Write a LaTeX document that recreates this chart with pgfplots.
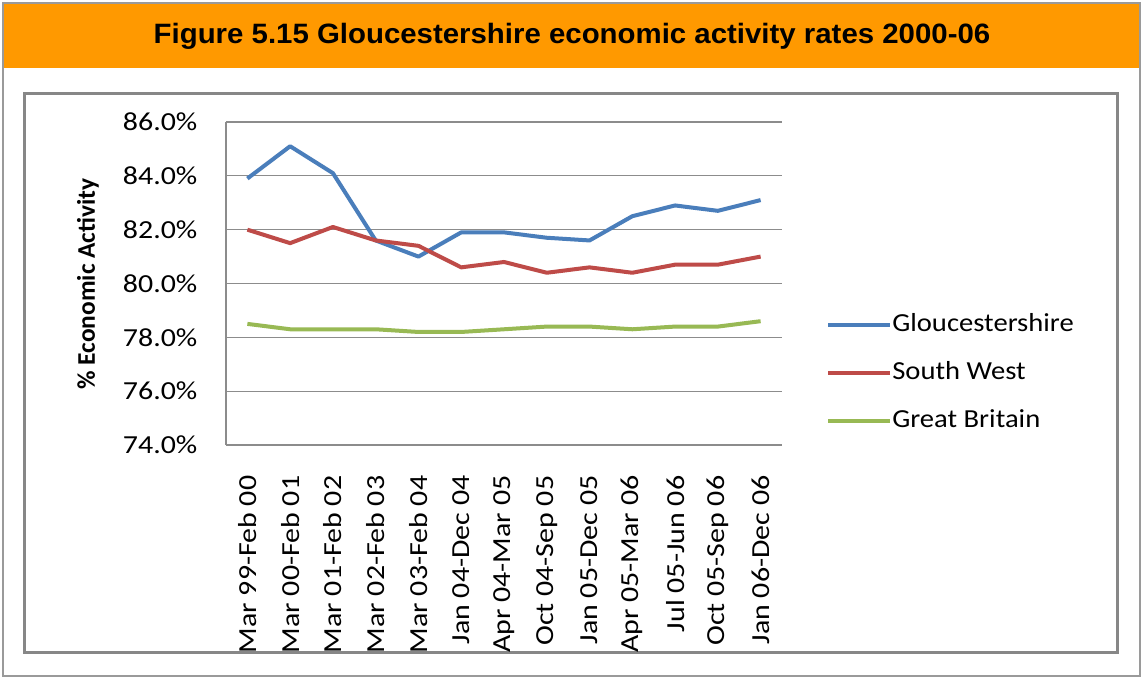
\documentclass[border=0pt]{standalone}
\usepackage{fontspec}
\usepackage{pgfplots}
\pgfplotsset{compat=1.18}
\setmainfont{Carlito}
\newfontfamily\tickfont{Carlito}[FakeStretch=1.15]
\newfontfamily\legfont{Carlito}[FakeStretch=1.1]
\newfontfamily\titlefont{Liberation Sans}[FakeStretch=1.05]
\definecolor{glos}{HTML}{4A7EBB}
\definecolor{swest}{HTML}{BE4B48}
\definecolor{gbrit}{HTML}{98B954}
\definecolor{hdr}{HTML}{FF9900}
\definecolor{frame}{HTML}{9A9A9A}
\definecolor{boxc}{HTML}{878787}
\definecolor{gridc}{HTML}{8C8C8C}

\begin{document}
\begin{tikzpicture}
\useasboundingbox (0,0) rectangle (571pt,-338.5pt);
\fill[white] (0,0) rectangle (571pt,-338.5pt);
\fill[hdr] (1.5pt,-1.5pt) rectangle (570pt,-34pt);
\draw[frame,line width=1pt] (1.5pt,-1.5pt) rectangle (570pt,-338pt);
\draw[boxc,line width=1.5pt] (12pt,-46.5pt) rectangle (558.5pt,-326pt);
\node[font=\titlefont\fontsize{14}{16}\selectfont\bfseries] at (286pt,-18pt) {Figure 5.15 Gloucestershire economic activity rates 2000-06};
\node[rotate=90,font=\fontsize{12.7}{14}\selectfont\bfseries] at (44pt,-142pt) {\% Economic Activity};

\begin{axis}[at={(113pt,-222.5pt)},anchor=south west,
scale only axis,width=278pt,height=161.5pt,
xmin=-0.5,xmax=12.5,ymin=74,ymax=86,
xtick={0,...,12},ytick={74,76,...,86},
xticklabels={Mar 99-Feb 00,Mar 00-Feb 01,Mar 01-Feb 02,Mar 02-Feb 03,Mar 03-Feb 04,Jan 04-Dec 04,Apr 04-Mar 05,Oct 04-Sep 05,Jan 05-Dec 05,Apr 05-Mar 06,Jul 05-Jun 06,Oct 05-Sep 06,Jan 06-Dec 06},
yticklabel={\pgfmathprintnumber[fixed,fixed zerofill,precision=1,assume math mode=true]{\tick}\%},
xticklabel style={rotate=90,anchor=east,inner sep=0pt,font=\tickfont\fontsize{13}{15}\selectfont},
yticklabel style={anchor=east,inner sep=0pt,font=\tickfont\fontsize{13}{15}\selectfont},
xticklabel shift=13pt,yticklabel shift=12pt,
axis x line=bottom,axis y line=left,axis line style={-,gridc,line width=0.6pt},
tick style={draw=none},
ymajorgrids,grid style={gridc,line width=0.6pt},
legend cell align=left,
legend style={at={(axis description cs:1.079,0.222)},anchor=west,draw=none,fill=none,
  inner sep=0pt,row sep=12pt,font=\legfont\fontsize{13}{15}\selectfont,
  nodes={inner sep=0pt,text height=9pt,text depth=3pt}},
legend image code/.code={\draw[#1,line width=2pt] (0pt,0pt) -- (31pt,0pt);},
]
\addplot[glos,line width=2pt,line join=round] coordinates {(0,83.9) (1,85.1) (2,84.1) (3,81.6) (4,81.0) (5,81.9) (6,81.9) (7,81.7) (8,81.6) (9,82.5) (10,82.9) (11,82.7) (12,83.1)};
\addplot[swest,line width=2pt,line join=round] coordinates {(0,82.0) (1,81.5) (2,82.1) (3,81.6) (4,81.4) (5,80.6) (6,80.8) (7,80.4) (8,80.6) (9,80.4) (10,80.7) (11,80.7) (12,81.0)};
\addplot[gbrit,line width=2pt,line join=round] coordinates {(0,78.5) (1,78.3) (2,78.3) (3,78.3) (4,78.2) (5,78.2) (6,78.3) (7,78.4) (8,78.4) (9,78.3) (10,78.4) (11,78.4) (12,78.6)};
\legend{Gloucestershire,South West,Great Britain}
\end{axis}
\end{tikzpicture}
\end{document}
